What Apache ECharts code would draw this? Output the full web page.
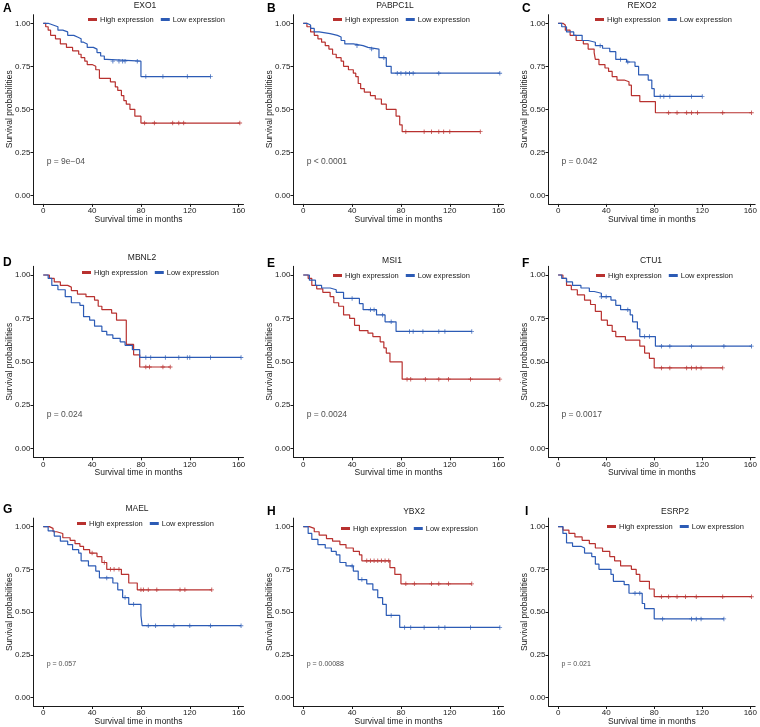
<!DOCTYPE html>
<html><head><meta charset="utf-8">
<script src="https://cdn.jsdelivr.net/npm/echarts@6/dist/echarts.min.js"></script>
<style>html,body{margin:0;padding:0;background:#fff}#c{width:760px;height:727px}</style>
</head><body><div id="c"></div>
<script>
// ---------------- DATA ----------------
const genes = ['EXO1','PABPC1L','REXO2','MBNL2','MSI1','CTU1','MAEL','YBX2','ESRP2'];
const letters = ['A','B','C','D','E','F','G','H','I'];
const pTexts = ['p = 9e\u221204','p < 0.0001','p = 0.042','p = 0.024','p = 0.0024','p = 0.0017','p = 0.057','p = 0.00088','p = 0.021'];
const seriesNames = ['High expression','Low expression'];
const xTicks = [0,40,80,120,160];
const yTicks = [0,0.25,0.5,0.75,1];
const xLabel = 'Survival time in months';
const yLabel = 'Survival probabilities';
const pPos = [2.8, 0.195];

// [months, survival] after each step
const EXO1_high = [[0,1],[2,0.98],[4,0.96],[6,0.93],[10,0.91],[14,0.88],[19,0.86],[24,0.84],[29,0.82],[31,0.80],[34,0.78],[36,0.76],[40,0.75],[43,0.73],[46,0.68],[55,0.66],[59,0.63],[61,0.61],[64,0.58],[66,0.55],[68,0.53],[71,0.50],[75,0.46],[80,0.42],[161,0.42]];
const EXO1_low = [[0,1],[4,0.99],[8,0.98],[12,0.96],[16,0.95],[20,0.93],[25,0.92],[28,0.91],[31,0.89],[33,0.88],[36,0.86],[41,0.85],[44,0.83],[47,0.81],[50,0.79],[52,0.78],[80,0.69],[137,0.69]];
const EXO1_highCens = [83,91,106,111,115,161];
const EXO1_lowCens = [57,62,65,67,77,84,98,118,137];

const PABPC1L_high = [[0,1],[3,0.98],[6,0.95],[9,0.93],[12,0.91],[15,0.89],[18,0.87],[21,0.85],[24,0.82],[27,0.80],[31,0.78],[33,0.75],[37,0.73],[41,0.71],[43,0.69],[45,0.65],[47,0.62],[50,0.60],[55,0.58],[59,0.56],[64,0.53],[68,0.50],[76,0.46],[79,0.41],[81,0.37],[145,0.37]];
const PABPC1L_low = [[0,1],[3,0.99],[6,0.97],[9,0.95],[13,0.94],[22,0.93],[28,0.92],[31,0.90],[34,0.88],[41,0.87],[49,0.86],[53,0.85],[62,0.80],[68,0.75],[72,0.71],[161,0.71]];
const PABPC1L_highCens = [84,99,105,111,115,120,145];
const PABPC1L_lowCens = [44,56,66,77,80,84,87,90,111,161];

const REXO2_high = [[0,1],[4,0.99],[6,0.96],[10,0.93],[15,0.90],[21,0.88],[25,0.85],[30,0.83],[31,0.79],[34,0.76],[39,0.74],[42,0.72],[45,0.69],[49,0.67],[55,0.66],[59,0.64],[61,0.58],[68,0.545],[81,0.48],[161,0.48]];
const REXO2_low = [[0,1],[3,0.98],[7,0.95],[13,0.93],[20,0.90],[25,0.89],[31,0.87],[37,0.855],[43,0.835],[48,0.79],[57,0.775],[64,0.75],[67,0.70],[75,0.67],[78,0.62],[80,0.575],[120,0.575]];
const REXO2_highCens = [92,99,107,111,116,137,161];
const REXO2_lowCens = [35,52,58,85,88,93,111,120];

const MBNL2_high = [[0,1],[5,0.98],[9,0.96],[14,0.94],[20,0.93],[23,0.91],[28,0.89],[35,0.875],[42,0.855],[45,0.82],[48,0.80],[56,0.78],[60,0.74],[68,0.60],[74,0.54],[79,0.47],[104,0.47]];
const MBNL2_low = [[0,1],[4,0.98],[7,0.94],[12,0.915],[18,0.875],[23,0.84],[30,0.825],[33,0.76],[38,0.74],[42,0.705],[48,0.675],[52,0.655],[57,0.635],[63,0.615],[67,0.595],[73,0.57],[79,0.525],[162,0.525]];
const MBNL2_highCens = [84,87,98,104];
const MBNL2_lowCens = [84,88,100,111,118,120,137,162];

const MSI1_high = [[0,1],[4,0.98],[7,0.94],[11,0.92],[16,0.90],[22,0.875],[25,0.84],[29,0.82],[33,0.77],[38,0.75],[42,0.71],[46,0.68],[53,0.665],[57,0.645],[63,0.615],[66,0.58],[68,0.55],[71,0.50],[81,0.40],[161,0.40]];
const MSI1_low = [[0,1],[5,0.97],[10,0.94],[15,0.925],[22,0.915],[27,0.90],[33,0.865],[46,0.835],[49,0.80],[60,0.77],[67,0.73],[76,0.675],[138,0.675]];
const MSI1_highCens = [85,88,100,111,119,137,161];
const MSI1_lowCens = [40,55,58,65,72,87,90,98,111,116,138];

const CTU1_high = [[0,1],[4,0.98],[7,0.94],[11,0.915],[16,0.885],[22,0.855],[27,0.83],[31,0.79],[36,0.74],[41,0.71],[45,0.675],[48,0.645],[56,0.625],[68,0.59],[72,0.55],[76,0.52],[80,0.465],[137,0.465]];
const CTU1_low = [[0,1],[3,0.98],[7,0.96],[12,0.94],[19,0.925],[26,0.905],[30,0.895],[36,0.875],[44,0.855],[48,0.825],[52,0.80],[60,0.77],[62,0.73],[66,0.69],[68,0.645],[81,0.59],[161,0.59]];
const CTU1_highCens = [86,93,107,111,115,119,137];
const CTU1_lowCens = [36,40,58,72,76,86,93,111,138,161];

const MAEL_high = [[0,1],[5,0.99],[8,0.97],[11,0.96],[16,0.935],[22,0.92],[26,0.90],[30,0.885],[33,0.865],[38,0.845],[44,0.825],[48,0.79],[52,0.75],[64,0.72],[70,0.67],[77,0.63],[138,0.63]];
const MAEL_low = [[0,1],[4,0.975],[9,0.945],[14,0.915],[20,0.895],[24,0.865],[29,0.845],[31,0.80],[37,0.77],[43,0.74],[46,0.70],[57,0.67],[61,0.63],[65,0.585],[70,0.545],[80,0.48],[81,0.42],[162,0.42]];
const MAEL_highCens = [40,50,55,58,62,80,82,86,93,112,116,138];
const MAEL_lowCens = [52,67,74,86,92,107,120,137,162];

const YBX2_high = [[0,1],[5,0.99],[9,0.97],[13,0.95],[19,0.93],[24,0.915],[30,0.895],[35,0.875],[41,0.855],[46,0.835],[48,0.80],[71,0.76],[75,0.72],[80,0.665],[138,0.665]];
const YBX2_low = [[0,1],[4,0.96],[7,0.925],[12,0.895],[18,0.875],[23,0.855],[27,0.835],[30,0.79],[35,0.77],[41,0.74],[45,0.69],[52,0.665],[57,0.63],[61,0.585],[65,0.545],[68,0.48],[79,0.41],[161,0.41]];
const YBX2_highCens = [52,55,58,61,64,67,70,84,91,105,111,119,138];
const YBX2_lowCens = [40,48,72,83,88,99,111,116,137,161];

const ESRP2_high = [[0,1],[4,0.98],[9,0.96],[14,0.94],[20,0.92],[26,0.90],[31,0.875],[37,0.855],[43,0.825],[47,0.80],[52,0.77],[61,0.75],[65,0.72],[68,0.68],[76,0.635],[80,0.59],[161,0.59]];
const ESRP2_low = [[0,1],[4,0.96],[7,0.905],[12,0.885],[19,0.875],[22,0.845],[28,0.825],[31,0.78],[34,0.75],[44,0.72],[46,0.68],[55,0.66],[59,0.61],[70,0.55],[72,0.52],[80,0.46],[138,0.46]];
const ESRP2_highCens = [86,92,99,106,115,137,161];
const ESRP2_lowCens = [64,68,87,111,115,119,138];

const highCurves = [EXO1_high,PABPC1L_high,REXO2_high,MBNL2_high,MSI1_high,CTU1_high,MAEL_high,YBX2_high,ESRP2_high];
const lowCurves = [EXO1_low,PABPC1L_low,REXO2_low,MBNL2_low,MSI1_low,CTU1_low,MAEL_low,YBX2_low,ESRP2_low];
const highCens = [EXO1_highCens,PABPC1L_highCens,REXO2_highCens,MBNL2_highCens,MSI1_highCens,CTU1_highCens,MAEL_highCens,YBX2_highCens,ESRP2_highCens];
const lowCens = [EXO1_lowCens,PABPC1L_lowCens,REXO2_lowCens,MBNL2_lowCens,MSI1_lowCens,CTU1_lowCens,MAEL_lowCens,YBX2_lowCens,ESRP2_lowCens];

// ---------------- LAYOUT / STYLE ----------------
const RED = '#B8312F', BLUE = '#2C5BB5', INK = '#1a1a1a';
const FONT = '"Liberation Sans", Arial, sans-serif';
const colLeft = [33.5, 293.5, 548.5];
const gridW = 210;
const rowTop = [14.7, 266.3, 518.1];
const rowH = [189.2, 191, 189.5];
const titlePos = [[145,6],[395,6],[642,6],[142,258],[392,261],[651,261],[137,509],[414,512],[675,512]];
const letterPos = [[3,9],[267,8.5],[522,8.5],[3,263],[267,264],[522,264],[3,510],[267,512],[525,512]];
const legendPos = [[88,20],[333,20],[595,20],[82,273],[333,276],[596,276],[77,524],[341,529],[607,527]];
const pFont = [8.5,8.5,8.5,8.5,8.5,8.5,7,7,7];

function stepValue(curve, t){
  let v = curve[0][1];
  for (const [x,y] of curve){ if (x <= t) v = y; else break; }
  return v;
}
const PLUS = 'path://M2,0H3V2H5V3H3V5H2V3H0V2H2Z';

const grids=[], xAxes=[], yAxes=[], series=[], legends=[], graphics=[];
genes.forEach((g,i)=>{
  const c = i%3, r = Math.floor(i/3);
  grids.push({left:colLeft[c], top:rowTop[r], width:gridW, height:rowH[r], containLabel:false});
  xAxes.push({type:'value', gridIndex:i, min:-8, max:164,
    axisLine:{onZero:false, lineStyle:{color:INK,width:1}},
    axisTick:{customValues:xTicks, length:3, lineStyle:{color:INK,width:1}},
    axisLabel:{customValues:xTicks, fontSize:8, margin:3, color:INK, fontFamily:FONT},
    splitLine:{show:false},
    name:xLabel, nameLocation:'middle', nameGap:11, nameMoveOverlap:false,
    nameTextStyle:{fontSize:8.5, color:INK, fontFamily:FONT}});
  yAxes.push({type:'value', gridIndex:i, min:-0.05, max:1.05,
    axisLine:{show:true,onZero:false, lineStyle:{color:INK,width:1}},
    axisTick:{show:true,customValues:yTicks, length:3, lineStyle:{color:INK,width:1}},
    axisLabel:{customValues:yTicks, fontSize:8, margin:3, color:INK, fontFamily:FONT, formatter:v=>Number(v).toFixed(2)},
    splitLine:{show:false},
    name:yLabel, nameLocation:'middle', nameGap:19, nameMoveOverlap:false,
    nameTextStyle:{fontSize:8.5, color:INK, fontFamily:FONT}});
  const hi = highCurves[i], lo = lowCurves[i];
  series.push({type:'line', name:seriesNames[0], xAxisIndex:i, yAxisIndex:i, data:hi, step:'end',
    symbol:'none', color:RED, lineStyle:{color:RED,width:1.2}, itemStyle:{color:RED}, silent:true, animation:false, z:3});
  series.push({type:'line', name:seriesNames[1], xAxisIndex:i, yAxisIndex:i, data:lo, step:'end',
    symbol:'none', color:BLUE, lineStyle:{color:BLUE,width:1.2}, itemStyle:{color:BLUE}, silent:true, animation:false, z:3});
  series.push({type:'scatter', name:'hc'+i, xAxisIndex:i, yAxisIndex:i,
    data:highCens[i].map(t=>[t, stepValue(hi,t)]), symbol:PLUS, symbolSize:4.5,
    itemStyle:{color:RED}, silent:true, animation:false, z:4});
  series.push({type:'scatter', name:'lc'+i, xAxisIndex:i, yAxisIndex:i,
    data:lowCens[i].map(t=>[t, stepValue(lo,t)]), symbol:PLUS, symbolSize:4.5,
    itemStyle:{color:BLUE}, silent:true, animation:false, z:4});
  series.push({type:'scatter', name:'p'+i, xAxisIndex:i, yAxisIndex:i,
    data:[{value:pPos, label:{formatter:pTexts[i]}}], symbolSize:0, silent:true, animation:false,
    label:{show:true, position:[0,0], align:'left', verticalAlign:'middle', fontSize:pFont[i], color:INK, fontFamily:FONT}});
  legends.push({left:legendPos[i][0], top:legendPos[i][1]-4.5, padding:0, itemGap:7, itemWidth:9, itemHeight:3,
    icon:'rect', selectedMode:false, data:seriesNames,
    textStyle:{fontSize:7.5, color:INK, fontFamily:FONT, padding:[0,0,0,-2]}});
  graphics.push({type:'text', x:titlePos[i][0], y:titlePos[i][1],
    style:{text:g, fontSize:8.5, fill:INK, fontFamily:FONT, textAlign:'center', textVerticalAlign:'middle'}});
  graphics.push({type:'text', x:letterPos[i][0], y:letterPos[i][1],
    style:{text:letters[i], fontSize:12, fontWeight:'bold', fill:'#000', fontFamily:FONT, textAlign:'left', textVerticalAlign:'middle'}});
});

const chart = echarts.init(document.getElementById('c'), null, {renderer:'canvas'});
chart.setOption({
  backgroundColor:'#fff', animation:false,
  grid:grids, xAxis:xAxes, yAxis:yAxes, series:series, legend:legends, graphic:graphics
});
</script></body></html>
